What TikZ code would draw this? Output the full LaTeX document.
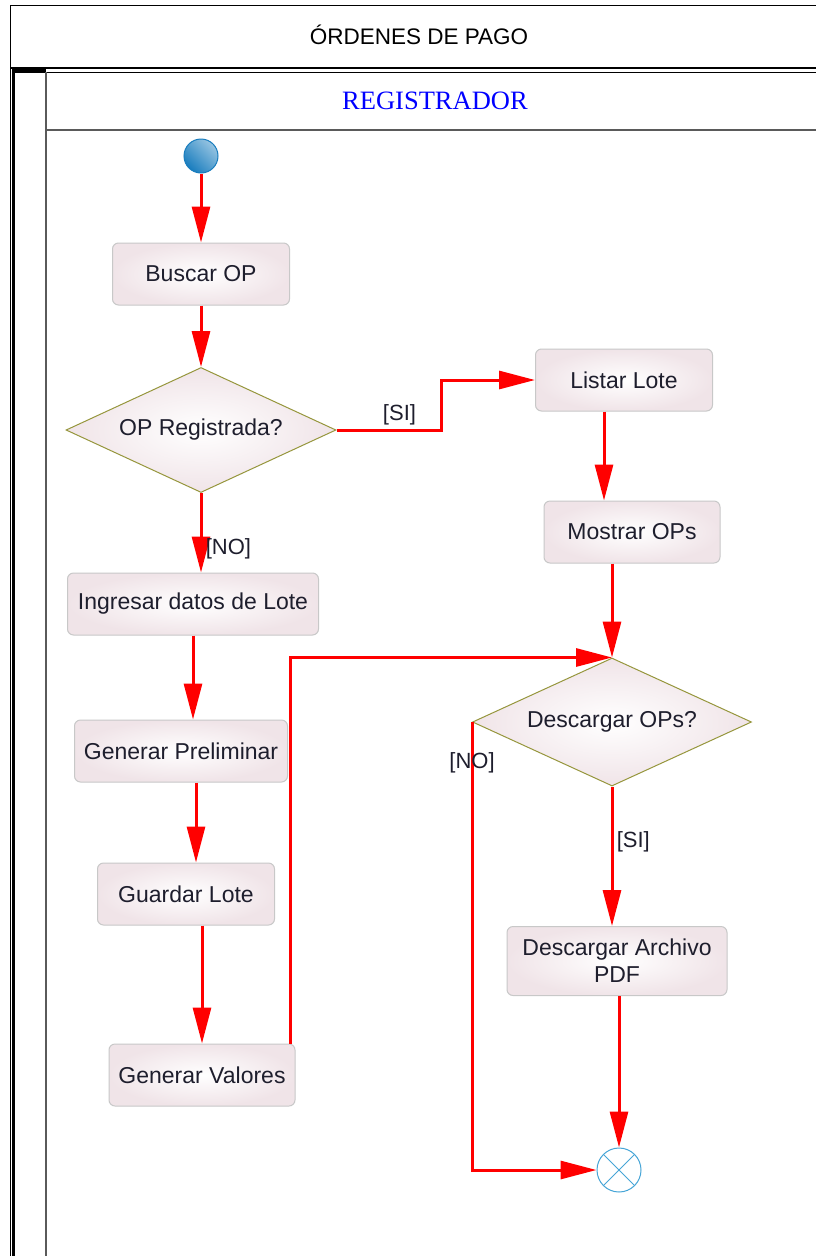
\documentclass[tikz,border=0pt]{standalone}
\usepackage{fontspec}
\setmainfont{Liberation Sans}
\newfontfamily\lanefont{Liberation Serif}
\usetikzlibrary{positioning,shapes,arrows.meta,calc}
\definecolor{myred}{RGB}{255,0,0}
\definecolor{myolive}{RGB}{150,150,60}
\definecolor{myboxfill}{RGB}{240,228,232}
\definecolor{myboxline}{RGB}{200,200,200}
\definecolor{startblue}{RGB}{25,125,190}
\definecolor{endblue}{RGB}{70,165,215}
\definecolor{mytext}{RGB}{30,30,45}
\definecolor{lanegray}{RGB}{90,90,90}

\begin{document}
\begin{tikzpicture}[x=1pt,y=-1pt,
  actnode/.style={rectangle,rounded corners=6pt,draw=myboxline,line width=1pt,
    inner color=white,outer color=myboxfill,minimum width=177pt,minimum height=62pt,
    inner xsep=9pt,align=center,text=mytext,font=\fontsize{23}{27}\selectfont},
  decnode/.style={diamond,draw=myolive,line width=1pt,inner color=white,outer color=myboxfill,
    aspect=2.16,inner sep=2pt,minimum width=270pt,minimum height=125pt,
    text=mytext,font=\fontsize{23}{27}\selectfont},
  guard/.style={text=mytext,font=\fontsize{22}{26}\selectfont},
  flow/.style={myred,line width=3pt,-{Triangle[length=36pt,width=18pt]}}
]
\useasboundingbox (0,0) rectangle (816,1256);
\clip (0,0) rectangle (816,1256);

% the frame and the lane
\fill[white] (0,0) rectangle (816,1256);
\draw[line width=1pt] (10,1260) -- (10,5) -- (830,5);
\draw[line width=1.5pt] (10,68) -- (830,68);
\draw[line width=1pt] (13,72) -- (830,72);
\draw[line width=3pt] (13,1260) -- (13,70) -- (46,70);
\draw[lanegray,line width=1.5pt] (46,1260) -- (46,72);
\draw[lanegray,line width=1.5pt] (46,130) -- (830,130);
\node (title) at (419,35) {\fontsize{22.5}{27}\selectfont ÓRDENES DE PAGO};
\node[blue] (lane) at (435,101) {\lanefont\fontsize{26.5}{31}\selectfont REGISTRADOR};

% the left column
\node[circle,minimum size=34pt,inner sep=0pt,left color=startblue!45!white,right color=startblue,
  shading angle=-45,draw=startblue,line width=1pt] (start) at (201,156) {};
\node[actnode] (buscar) at (201,274) {Buscar OP};
\node[decnode] (opreg) at (201,430) {OP Registrada?};
\node[actnode,minimum width=251pt] (ingresar) at (193,604) {Ingresar datos de Lote};
\node[actnode,minimum width=213pt] (prelim) at (181,751) {Generar Preliminar};
\node[actnode] (guardar) at (186,894) {Guardar Lote};
\node[actnode,minimum width=186pt] (valores) at (202,1075) {Generar Valores};

% the right column
\node[actnode] (listar) at (624,380) {Listar Lote};
\node[actnode,minimum width=176pt] (mostrar) at (632,532) {Mostrar OPs};
\node[decnode,minimum width=279pt,minimum height=128pt] (desc) at (612,722) {Descargar OPs?};
\node[actnode,minimum width=220pt,minimum height=69pt] (archivo) at (617,961) {Descargar Archivo\\PDF};
\node[circle,minimum size=44pt,inner sep=0pt,draw=endblue,line width=1pt,fill=white,
  path picture={\draw[endblue,line width=1pt]
    (path picture bounding box.north west) -- (path picture bounding box.south east)
    (path picture bounding box.north east) -- (path picture bounding box.south west);}]
  (end) at (619,1170) {};

% the edges
\draw[flow] (start) -- (start |- buscar.north);
\draw[flow] (buscar.south) -- (opreg.north);
\draw[flow] (opreg.east) -- node[guard,above,pos=0.6] {[SI]} ++(105,0) |- (listar.west);
\draw[flow] (opreg.south) -- node[guard,right,pos=0.7] {[NO]} (opreg.south |- ingresar.north);
\draw[flow] ([xshift=-20pt]listar.south) -- ([xshift=-20pt]listar.south |- mostrar.north);
\draw[flow] (mostrar.south -| desc.north) -- (desc.north);
\draw[flow] (ingresar.south) -- (ingresar.south |- prelim.north);
\draw[flow] ([xshift=10pt]guardar.north |- prelim.south) -- ([xshift=10pt]guardar.north);
\draw[flow] (valores.north |- guardar.south) -- (valores.north);
\draw[flow] ([xshift=-5pt]valores.north east) |- (desc.north);
\draw[flow] (desc.west) |- node[guard,pos=0.045] {[NO]} (end.west);
\draw[flow] (desc.south) -- node[guard,right,pos=0.4] {[SI]} (desc.south |- archivo.north);
\draw[flow] (archivo.south -| end.north) -- (end.north);
\end{tikzpicture}
\end{document}
